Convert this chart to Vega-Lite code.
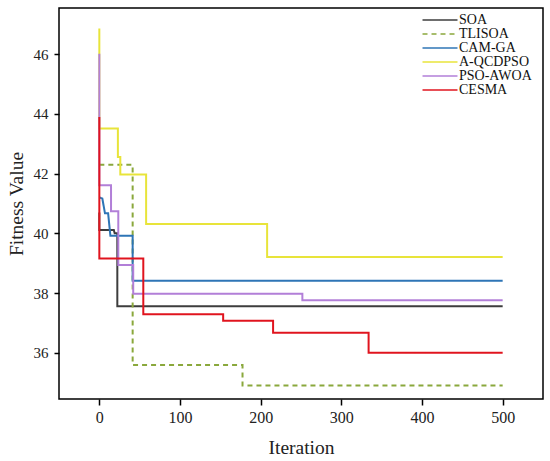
{
  "$schema": "https://vega.github.io/schema/vega-lite/v6.json",
  "width": 484,
  "height": 391,
  "autosize": "none",
  "padding": {"left": 59, "top": 8, "right": 7, "bottom": 62},
  "background": "white",
  "config": {
    "font": "Liberation Serif",
    "view": {"stroke": "black", "strokeWidth": 1.5}
  },
  "data": {
    "values": [
      {"alg": "SOA", "k": 1, "it": 0, "fit": 40.7},
      {"alg": "SOA", "k": 2, "it": 0, "fit": 40.11},
      {"alg": "SOA", "k": 3, "it": 18, "fit": 40.11},
      {"alg": "SOA", "k": 4, "it": 19, "fit": 40.0},
      {"alg": "SOA", "k": 5, "it": 22.3, "fit": 40.0},
      {"alg": "SOA", "k": 6, "it": 22.3, "fit": 37.56},
      {"alg": "SOA", "k": 7, "it": 500, "fit": 37.56},
      {"alg": "TLISOA", "k": 1, "it": 0, "fit": 42.3},
      {"alg": "TLISOA", "k": 2, "it": 41.3, "fit": 42.3},
      {"alg": "TLISOA", "k": 3, "it": 41.3, "fit": 35.59},
      {"alg": "TLISOA", "k": 4, "it": 177.5, "fit": 35.59},
      {"alg": "TLISOA", "k": 5, "it": 177.5, "fit": 34.9},
      {"alg": "TLISOA", "k": 6, "it": 500, "fit": 34.9},
      {"alg": "CAM-GA", "k": 1, "it": 0, "fit": 41.2},
      {"alg": "CAM-GA", "k": 2, "it": 3.7, "fit": 41.17},
      {"alg": "CAM-GA", "k": 3, "it": 7, "fit": 40.67},
      {"alg": "CAM-GA", "k": 4, "it": 10.9, "fit": 40.67},
      {"alg": "CAM-GA", "k": 5, "it": 13.7, "fit": 39.92},
      {"alg": "CAM-GA", "k": 6, "it": 41.3, "fit": 39.92},
      {"alg": "CAM-GA", "k": 7, "it": 41.3, "fit": 38.41},
      {"alg": "CAM-GA", "k": 8, "it": 500, "fit": 38.41},
      {"alg": "A-QCDPSO", "k": 1, "it": 0, "fit": 46.86},
      {"alg": "A-QCDPSO", "k": 2, "it": 0, "fit": 43.51},
      {"alg": "A-QCDPSO", "k": 3, "it": 23, "fit": 43.51},
      {"alg": "A-QCDPSO", "k": 4, "it": 23, "fit": 42.56},
      {"alg": "A-QCDPSO", "k": 5, "it": 26, "fit": 42.56},
      {"alg": "A-QCDPSO", "k": 6, "it": 26, "fit": 41.97},
      {"alg": "A-QCDPSO", "k": 7, "it": 58, "fit": 41.97},
      {"alg": "A-QCDPSO", "k": 8, "it": 58, "fit": 40.31},
      {"alg": "A-QCDPSO", "k": 9, "it": 208, "fit": 40.31},
      {"alg": "A-QCDPSO", "k": 10, "it": 208, "fit": 39.21},
      {"alg": "A-QCDPSO", "k": 11, "it": 500, "fit": 39.21},
      {"alg": "PSO-AWOA", "k": 1, "it": 0, "fit": 46.02},
      {"alg": "PSO-AWOA", "k": 2, "it": 0, "fit": 41.61},
      {"alg": "PSO-AWOA", "k": 3, "it": 14.5, "fit": 41.61},
      {"alg": "PSO-AWOA", "k": 4, "it": 14.5, "fit": 40.74},
      {"alg": "PSO-AWOA", "k": 5, "it": 23.5, "fit": 40.74},
      {"alg": "PSO-AWOA", "k": 6, "it": 23.5, "fit": 38.94},
      {"alg": "PSO-AWOA", "k": 7, "it": 42, "fit": 38.94},
      {"alg": "PSO-AWOA", "k": 8, "it": 42, "fit": 37.98},
      {"alg": "PSO-AWOA", "k": 9, "it": 251.7, "fit": 37.98},
      {"alg": "PSO-AWOA", "k": 10, "it": 251.7, "fit": 37.76},
      {"alg": "PSO-AWOA", "k": 11, "it": 500, "fit": 37.76},
      {"alg": "CESMA", "k": 1, "it": 0, "fit": 43.9},
      {"alg": "CESMA", "k": 2, "it": 0, "fit": 39.16},
      {"alg": "CESMA", "k": 3, "it": 54.5, "fit": 39.16},
      {"alg": "CESMA", "k": 4, "it": 54.5, "fit": 37.29},
      {"alg": "CESMA", "k": 5, "it": 153.5, "fit": 37.29},
      {"alg": "CESMA", "k": 6, "it": 153.5, "fit": 37.07},
      {"alg": "CESMA", "k": 7, "it": 215.4, "fit": 37.07},
      {"alg": "CESMA", "k": 8, "it": 215.4, "fit": 36.67},
      {"alg": "CESMA", "k": 9, "it": 333.8, "fit": 36.67},
      {"alg": "CESMA", "k": 10, "it": 333.8, "fit": 36.0},
      {"alg": "CESMA", "k": 11, "it": 500, "fit": 36.0}
    ]
  },
  "mark": {"type": "line", "strokeWidth": 2},
  "encoding": {
    "x": {
      "field": "it",
      "type": "quantitative",
      "title": "Iteration",
      "scale": {"domain": [-50, 550], "nice": false, "zero": false},
      "axis": {
        "values": [0, 100, 200, 300, 400, 500],
        "grid": false,
        "domain": false,
        "tickColor": "black",
        "tickSize": 6,
        "tickWidth": 1.5,
        "labelFontSize": 16,
        "labelColor": "#222",
        "labelPadding": 4,
        "titleFontSize": 19.5,
        "titleFontWeight": "normal",
        "titleColor": "#222",
        "titlePadding": 13
      }
    },
    "y": {
      "field": "fit",
      "type": "quantitative",
      "title": "Fitness Value",
      "scale": {"domain": [34.45, 47.55], "nice": false, "zero": false},
      "axis": {
        "values": [36, 38, 40, 42, 44, 46],
        "grid": false,
        "domain": false,
        "tickColor": "black",
        "tickSize": 5,
        "tickWidth": 1.5,
        "labelFontSize": 15,
        "labelColor": "#222",
        "labelPadding": 6,
        "titleFontSize": 19.5,
        "titleFontWeight": "normal",
        "titleColor": "#222",
        "titlePadding": 7
      }
    },
    "color": {
      "field": "alg",
      "type": "nominal",
      "sort": null,
      "title": null,
      "scale": {
        "domain": ["SOA", "TLISOA", "CAM-GA", "A-QCDPSO", "PSO-AWOA", "CESMA"],
        "range": ["#3d3d3d", "#8aa83c", "#2e75b6", "#e8e43a", "#b27fd8", "#e0141e"]
      },
      "legend": {
        "orient": "none",
        "legendX": 374,
        "legendY": 5,
        "symbolType": "M-3,0H3",
        "symbolSize": 136,
        "symbolStrokeWidth": 1.6,
        "labelFontSize": 14,
        "labelColor": "#111",
        "labelOffset": 12,
        "rowPadding": 0,
        "padding": 0
      }
    },
    "strokeDash": {
      "field": "alg",
      "type": "nominal",
      "sort": null,
      "title": null,
      "scale": {
        "domain": ["SOA", "TLISOA", "CAM-GA", "A-QCDPSO", "PSO-AWOA", "CESMA"],
        "range": [[1, 0], [5, 4], [1, 0], [1, 0], [1, 0], [1, 0]]
      }
    },
    "order": {"field": "k", "type": "quantitative"}
  }
}
